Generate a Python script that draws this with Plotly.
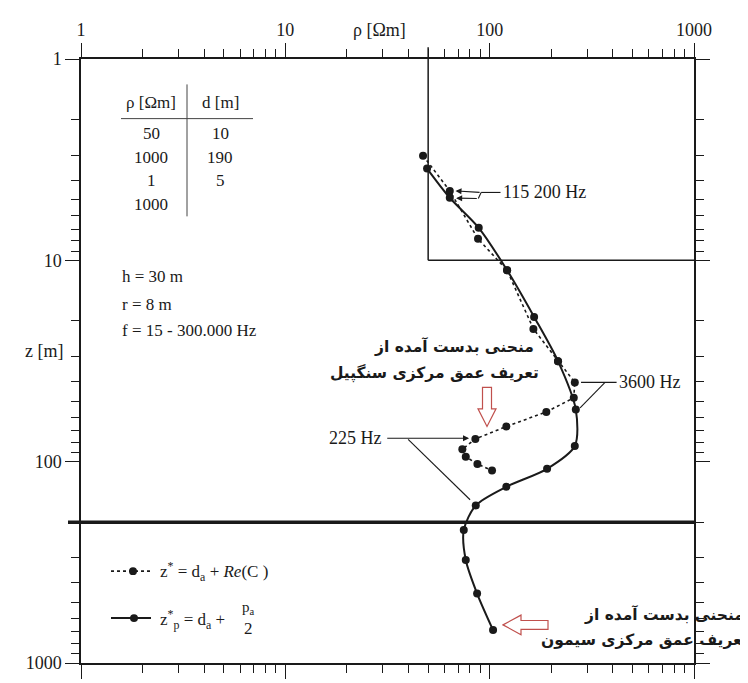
import numpy as np
import plotly.graph_objects as go

# ---------------- data ----------------
layer_rho = [50, 1000, 1, 1000]          # Ωm
layer_d = [10, 190, 5]                   # m
freq_hz = [230400, 115200, 57600, 28800, 14400, 7200, 3600, 1800, 900, 450,
           225, 112.5, 56.25, 28.125, 14.0625]

# z* = d_a + Re(C)   (dotted, Sengpiel)
rho_zstar = [47.2, 63.8, 87.7, 121.7, 163.7, 216, 261, 258, 189.4, 120.7,
             85.1, 73.5, 76.4, 87.1, 102.7]
z_zstar = [3.02, 4.52, 7.82, 11.2, 21.9, 31.7, 40.4, 48.2, 56.6, 66.9,
           77.1, 86.8, 94.6, 102.6, 110.6]

# z*_p = d_a + p_a/2  (solid, Simon)
rho_zp = [49.4, 63.8, 88.4, 121.7, 165, 216, 264, 261, 191, 120.7,
          85.5, 74.7, 76.4, 86.8, 103.9]
z_zp = [3.50, 4.89, 6.89, 11.2, 19.1, 31.7, 55.1, 83.6, 108.5, 133.3,
        165, 218.7, 308, 452, 686]

x_tick_vals = [1, 10, 100, 1000]
x_tick_text = ["1", "10", "100", "1000"]
minor_vals = [m * 10 ** k for k in range(3) for m in range(2, 10)]

# ---------------- layout helpers (pixel -> paper) ----------------
W, H = 748, 683
L, R, T, B = 73, 686, 49, 667
PW, PH = R - L, B - T


def px(x):
    return (x - L) / PW


def py(y):
    return 1 - (y - T) / PH


SERIF = "Liberation Serif, Times New Roman, serif"
INK = "#1a1a1a"

fig = go.Figure()

fig.add_trace(go.Scatter(
    x=rho_zstar, y=z_zstar, mode="lines+markers",
    line=dict(color=INK, width=1.6, dash="dot"),
    marker=dict(color=INK, size=8), showlegend=False, cliponaxis=False))
fig.add_trace(go.Scatter(
    x=rho_zp, y=z_zp, mode="lines+markers",
    line=dict(color=INK, width=2, shape="spline", smoothing=0.8),
    marker=dict(color=INK, size=8), showlegend=False, cliponaxis=False))

shapes = []
annotations = []

# layer model box and boundaries
depths = list(np.cumsum(layer_d))
shapes.append(dict(type="line", xref="x", yref="paper", x0=layer_rho[0], x1=layer_rho[0],
                   y0=py(T - 12), y1=py(T + np.log10(depths[0]) * PH / 3),
                   line=dict(color=INK, width=1.5)))
shapes.append(dict(type="line", xref="x", yref="y", x0=layer_rho[0], x1=layer_rho[1],
                   y0=depths[0], y1=depths[0], line=dict(color=INK, width=1.5)))
shapes.append(dict(type="line", xref="paper", yref="y", x0=px(L - 13), x1=px(R + 2),
                   y0=depths[1], y1=depths[1], line=dict(color=INK, width=3.5)))


def seg(x0, y0, x1, y1, w=1.1):
    shapes.append(dict(type="line", xref="x", yref="y", x0=x0, y0=y0, x1=x1, y1=y1,
                       line=dict(color=INK, width=w)))


def arrow(xt, yt, xs, ys):
    annotations.append(dict(x=np.log10(xt), y=np.log10(yt), ax=np.log10(xs), ay=np.log10(ys),
                            axref="x", ayref="y", xref="x", yref="y", text="",
                            showarrow=True, arrowhead=2, arrowsize=1.1, arrowwidth=1.1,
                            arrowcolor=INK))


# 115 200 Hz
seg(113, 4.6, 90.8, 4.6)
arrow(68.0, 4.52, 90.8, 4.6)
seg(90.8, 4.6, 88, 4.93)
arrow(68.5, 4.91, 88, 4.93)
annotations.append(dict(x=np.log10(114), y=np.log10(4.6), xref="x", yref="y", xanchor="left",
                        text="115 200 Hz", showarrow=False,
                        font=dict(family=SERIF, size=18, color=INK)))
# 3600 Hz
seg(418, 40.4, 280, 40.4)
seg(367, 40.4, 277, 54.1)
annotations.append(dict(x=np.log10(420), y=np.log10(40.4), xref="x", yref="y", xanchor="left",
                        text="3600 Hz", showarrow=False,
                        font=dict(family=SERIF, size=18, color=INK)))
# 225 Hz
arrow(79.3, 76.5, 31.0, 76.5)
seg(39.9, 77.5, 80.2, 154.6)
annotations.append(dict(x=np.log10(30.5), y=np.log10(76.5), xref="x", yref="y", xanchor="right",
                        text="225 Hz", showarrow=False,
                        font=dict(family=SERIF, size=18, color=INK)))


def ptext(x, y, text, size=17, anchor="left", family=SERIF, color=INK, weight="normal"):
    annotations.append(dict(x=px(x), y=py(y), xref="paper", yref="paper", xanchor=anchor,
                            yanchor="middle", text=text, showarrow=False,
                            font=dict(family=family, size=size, color=color, weight=weight)))


# table
ptext(143, 93, "ρ [Ωm]", anchor="center")
ptext(212, 93, "d [m]", anchor="center")
for i, r in enumerate(layer_rho):
    ptext(143, 125 + 24.3 * i, str(r), anchor="center")
for i, d in enumerate(layer_d):
    ptext(212, 125 + 24.3 * i, str(d), anchor="center")
shapes.append(dict(type="line", xref="paper", yref="paper", x0=px(113), x1=px(245),
                   y0=py(110), y1=py(110), line=dict(color="#444", width=1)))
shapes.append(dict(type="line", xref="paper", yref="paper", x0=px(179), x1=px(179),
                   y0=py(75), y1=py(210), line=dict(color="#444", width=1)))

# parameters
ptext(112, 272, "h = 30 m")
ptext(112, 300, "r = 8 m")
ptext(112, 327, "f = 15 - 300.000 Hz")

# axis titles
ptext(371, 19, "ρ [Ωm]", size=18, anchor="center")
ptext(36, 348, "z [m]", size=18, anchor="center")

# legend
shapes.append(dict(type="line", xref="paper", yref="paper", x0=px(103), x1=px(145),
                   y0=py(573), y1=py(573), line=dict(color=INK, width=1.6, dash="dot")))
shapes.append(dict(type="line", xref="paper", yref="paper", x0=px(103), x1=px(143),
                   y0=py(621), y1=py(621), line=dict(color=INK, width=2)))
for cx, cy in [(125, 573), (126, 621)]:
    shapes.append(dict(type="circle", xref="paper", yref="paper", x0=px(cx - 4), x1=px(cx + 4),
                       y0=py(cy - 4), y1=py(cy + 4), fillcolor=INK, line=dict(color=INK, width=0)))
ptext(150, 573, "z<sup>*</sup> = d<sub>a</sub> + <i>Re</i>(C )", size=17)
ptext(150, 622, "z<sup>*</sup><sub>p</sub> = d<sub>a</sub> +", size=17)
ptext(240, 611, "p<sub>a</sub>", size=15, anchor="center")
ptext(240, 632, "2", size=17, anchor="center")

# Persian callouts (centre-anchored: RTL text flips left/right anchors)
FA = "DejaVu Sans"
ptext(446, 343, "منحنی بدست آمده از", size=15.5, anchor="center", family=FA, weight="bold")
ptext(426, 370, "تعریف عمق مرکزی سنگپیل", size=15.5, anchor="center", family=FA, weight="bold")
ptext(656, 617, "منحنی بدست آمده از", size=15.5, anchor="center", family=FA, weight="bold")
ptext(636, 643, "تعریف عمق مرکزی سیمون", size=15.5, anchor="center", family=FA, weight="bold")


def ppath(points):
    return "M " + " L ".join(f"{px(x):.5f},{py(y):.5f}" for x, y in points) + " Z"


RED = "#c0504d"
down_arrow = [(474.5, 385), (483.5, 385), (483.5, 407), (488, 407), (479, 425),
              (470, 407), (474.5, 407)]
left_arrow = [(495, 628), (513, 618), (513, 623.5), (540, 623.5), (540, 632.5),
              (513, 632.5), (513, 638)]
for pts in (down_arrow, left_arrow):
    shapes.append(dict(type="path", xref="paper", yref="paper", path=ppath(pts),
                       fillcolor="white", line=dict(color=RED, width=1.2)))

axis_common = dict(
    type="log", showline=True, linecolor=INK, linewidth=1.5, mirror="allticks",
    ticks="outside", ticklen=14, tickwidth=1.2, tickcolor=INK,
    tickvals=x_tick_vals, ticktext=x_tick_text,
    minor=dict(tickmode="array", tickvals=minor_vals, ticks="outside", ticklen=8,
               tickwidth=1, tickcolor=INK, showgrid=False),
    showgrid=False, zeroline=False,
    tickfont=dict(family=SERIF, size=18, color=INK),
)

fig.update_layout(
    width=W, height=H,
    margin=dict(l=L, r=W - R, t=T, b=H - B),
    paper_bgcolor="white", plot_bgcolor="white",
    xaxis=dict(range=[0, 3], side="top", **axis_common),
    yaxis=dict(range=[3, 0], **axis_common),
    shapes=shapes, annotations=annotations,
)

fig.write_html("out.html")
